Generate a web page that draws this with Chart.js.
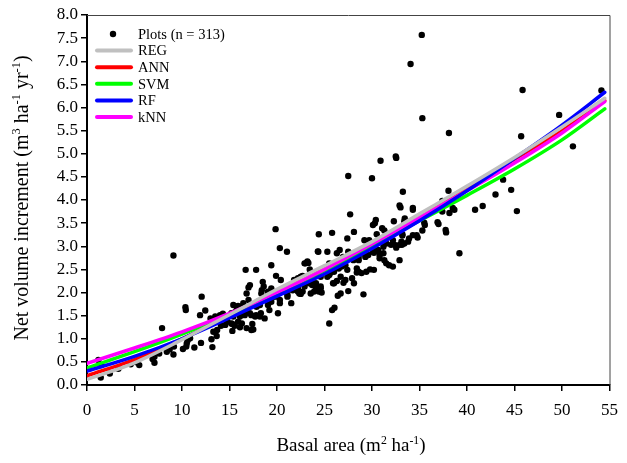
<!DOCTYPE html>
<html lang="en">
<head>
    <meta charset="UTF-8">
    <title>Net volume increment vs basal area</title>
    <script src="https://cdn.jsdelivr.net/npm/chart.js"></script>
    <style>
        body { margin: 0; background: white; }
        #wrap { width: 627px; height: 463px; }
    </style>
</head>
<body>
    <div id="wrap"><canvas id="nviChart" width="627" height="463"></canvas></div>
    <script>
        const plotX = [
            1.2, 1.5, 1.45, 2.4, 3.3, 4.6, 5.2, 5.5, 6.9, 7.1, 7.1, 7.6, 7.9, 8.4, 8.7, 9.1, 9.15, 9.1,
            10.1, 10.45, 10.5, 10.6, 10.85, 10.36, 10.4, 11.3, 12.0, 11.9, 12.07, 12.45, 13.0, 13.3, 13.5,
            13.1, 13.65, 13.3, 13.2, 13.7, 14.1, 14.0, 14.3, 14.55, 14.8, 15.3, 15.3, 15.45, 15.2, 15.55,
            16.1, 15.4, 16.1, 15.9,
            15.4, 15.75, 16.3, 15.6, 15.2, 16.6, 16.8, 15.9, 16.3, 17.4, 16.8, 17.5, 17.3, 17.15, 17.7,
            18.2, 18.7, 17.3, 17.8, 18.3, 16.45, 17.85, 18.2, 19.05, 19.2, 20.1, 16.7, 17.8, 17.15, 17.0,
            16.8, 18.5, 18.6, 18.4, 19.4, 19.9, 20.3, 18.35, 19.05, 19.6, 19.4, 20.3, 18.0, 17.5, 17.0,
            19.4, 19.85, 19.9, 20.4, 20.3, 21.05,
            21.8, 22.35, 22.7, 22.2, 22.5, 21.3, 21.65, 21.65, 22.2, 20.8, 21.1, 21.1, 21.5, 22.2, 22.5,
            22.35, 22.7, 22.9, 23.4, 23.7, 24.1, 24.5, 24.7, 23.55, 23.9, 23.65, 24.1, 24.6, 24.4, 24.6,
            22.9, 23.3, 23.0, 23.2, 23.45, 24.25, 24.25, 24.6, 24.4, 24.35, 24.3,
            25.3, 25.8, 25.5, 25.5, 25.8, 26.5, 26.8, 27.2, 27.4, 28.4, 26.3, 26.6, 26.95, 27.5, 28.6,
            29.3, 27.4, 28.1, 27.7, 27.5, 25.9, 27.2, 27.0, 27.9, 28.1, 26.0, 26.3, 26.7, 25.6, 25.3,
            26.0, 27.5, 26.4, 26.7, 29.1, 26.05, 25.8, 25.5, 28.4, 28.6, 28.9, 29.4, 28.05, 28.6, 29.1,
            29.6, 29.2, 29.7, 29.8,
            30.1, 30.65, 30.1, 30.2, 30.8, 31.2, 31.8, 30.2, 30.0, 30.9, 32.5, 30.4, 30.3, 30.1, 31.07,
            31.3, 30.5, 31.2, 31.5, 32.0, 32.2, 32.9, 33.4, 33.9, 34.3, 30.8, 31.3, 31.5, 32.2, 32.9,
            32.4, 33.1, 32.3, 33.45, 33.25, 32.9, 34.3, 32.55, 33.15, 33.8, 34.8, 33.2, 33.4, 34.3, 33.0,
            34.06, 32.55, 33.2, 34.7,
            35.24, 35.3, 38.1, 35.3, 35.5, 36.9, 37.75, 37.0, 35.56, 37.8, 39.2, 38.05, 37.44, 37.4,
            38.15, 38.5, 38.67, 37.4, 40.85, 41.65, 43.0, 43.8, 44.65, 45.25, 45.7, 45.85, 49.7, 51.15,
            54.15
        ];
        const plotY = [
            0.54, 0.43, 0.16, 0.25, 0.35, 0.45, 0.49, 0.43, 0.56, 0.48, 0.61, 0.68, 1.23, 0.72, 0.77, 0.66, 0.83, 2.8,
            0.78, 0.83, 0.9, 0.97, 1.01, 1.68, 1.62, 0.81, 0.91, 1.51, 1.91, 1.61, 1.44, 1.39, 1.48,
            0.99, 1.06, 1.15, 0.82, 1.19, 1.28, 1.51, 1.54, 1.3, 1.37, 1.32, 1.17, 1.55, 1.33, 1.28,
            1.25, 1.48, 1.48, 1.71,
            1.73, 1.69, 1.66, 1.58, 1.55, 1.51, 1.62, 1.37, 1.33, 1.32, 1.23, 1.2, 1.19, 1.55, 1.48,
            1.48, 1.44, 1.51, 1.51, 1.55, 1.77, 1.69, 1.73, 1.73, 1.62, 1.55, 2.49, 2.49, 2.16, 2.11,
            1.98, 2.23, 2.13, 2.05, 2.09, 1.91, 1.84, 1.98, 2.02, 1.91, 1.8, 1.77, 1.8, 1.73, 1.84,
            2.59, 3.37, 2.36, 2.27, 2.96, 2.88,
            2.27, 2.25, 2.36, 2.31, 2.34, 2.09, 2.14, 2.05, 2.09, 2.02, 1.95, 1.91, 1.77, 2.02, 1.97,
            1.98, 2.02, 2.13, 2.2, 2.16, 2.09, 2.05, 2.0, 1.98, 2.02, 2.23, 2.2, 2.13, 2.02, 2.09,
            2.63, 2.64, 2.63, 2.67, 2.5, 2.45, 2.38, 2.34, 3.26, 2.88, 2.89,
            2.88, 3.29, 2.38, 2.63, 2.59, 2.52, 2.56, 2.59, 2.49, 2.43, 2.85, 2.92, 2.77, 2.88, 2.7,
            2.77, 3.17, 3.31, 3.69, 4.52, 2.2, 2.27, 2.21, 2.31, 2.2, 2.2, 2.25, 2.34, 2.42, 2.34,
            2.45, 2.03, 1.93, 1.98, 1.96, 1.67, 1.62, 1.33, 2.52, 2.45, 2.42, 2.45, 2.7, 2.77, 2.85,
            2.81, 3.13, 3.13, 2.5,
            2.88, 2.92, 2.93, 2.86, 2.81, 2.85, 2.59, 2.49, 4.47, 4.85, 4.94, 3.57, 3.5, 3.46, 3.39,
            3.34, 3.26, 2.99, 3.06, 3.03, 3.13, 3.03, 3.06, 3.17, 3.24, 2.74, 2.7, 2.63, 2.56, 2.7,
            3.03, 3.1, 3.54, 3.6, 4.18, 3.88, 3.83, 2.97, 3.03, 3.1, 3.19, 3.23, 3.54, 3.79, 3.84,
            6.94, 4.91, 3.26, 3.24,
            7.57, 5.77, 5.45, 3.34, 3.51, 3.52, 3.35, 3.48, 3.46, 3.3, 2.85, 4.2, 3.93, 3.98,
            3.72, 3.83, 3.79, 3.75, 3.79, 3.87, 4.12, 4.44, 4.22, 3.76, 5.38, 6.38, 5.84, 5.16,
            6.37
        ];

        // fitted models, sampled along basal area
        const curveX = [0, 5, 10, 15, 20, 25, 30, 35, 40, 45, 50, 54.5];
        const regY = [0.12, 0.48, 0.98, 1.52, 2.07, 2.58, 3.1, 3.7, 4.3, 4.92, 5.58, 6.2];
        const annY = [0.2, 0.55, 1.0, 1.5, 2.02, 2.53, 3.06, 3.63, 4.25, 4.88, 5.5, 6.15];
        const svmY = [0.37, 0.72, 1.1, 1.52, 1.98, 2.47, 3.0, 3.55, 4.1, 4.67, 5.3, 5.97];
        const rfY = [0.3, 0.62, 1.0, 1.45, 1.92, 2.4, 2.95, 3.55, 4.2, 4.9, 5.62, 6.33];
        const knnY = [0.47, 0.8, 1.15, 1.55, 2.0, 2.5, 3.05, 3.62, 4.2, 4.8, 5.45, 6.13];

        const serif = "'Liberation Serif', 'Times New Roman', serif";

        const toPts = (xs, ys) => xs.map((x, i) => ({ x: x, y: ys[i] }));

        function curve(label, ys, color, order) {
            return {
                label: label,
                data: toPts(curveX, ys),
                showLine: true,
                borderColor: color,
                backgroundColor: color,
                borderWidth: 3.5,
                borderCapStyle: 'round',
                pointRadius: 0,
                cubicInterpolationMode: 'monotone',
                order: order
            };
        }

        // text with superscripts, parts = [[text, isSup], ...]
        function richText(ctx, parts, x, y, size) {
            const widths = parts.map(p => {
                ctx.font = (p[1] ? size * 0.62 : size) + 'px ' + serif;
                return ctx.measureText(p[0]).width;
            });
            let cx = x - widths.reduce((a, b) => a + b, 0) / 2;
            parts.forEach((p, i) => {
                ctx.font = (p[1] ? size * 0.62 : size) + 'px ' + serif;
                ctx.fillText(p[0], cx, p[1] ? y - size * 0.38 : y);
                cx += widths[i];
            });
        }

        const extras = {
            id: 'extras',
            afterDraw(chart) {
                const ctx = chart.ctx;
                const a = chart.chartArea;
                ctx.save();
                // box top and right
                ctx.strokeStyle = '#444';
                ctx.lineWidth = 1;
                ctx.beginPath();
                ctx.moveTo(a.left, a.top + 0.5);
                ctx.lineTo(a.right + 0.5, a.top + 0.5);
                ctx.lineTo(a.right + 0.5, a.bottom);
                ctx.stroke();

                ctx.fillStyle = '#000';
                ctx.textAlign = 'left';
                ctx.textBaseline = 'alphabetic';
                richText(ctx, [['Basal area (m', false], ['2', true], [' ha', false], ['-1', true], [')', false]],
                    351, 451, 19);
                ctx.translate(28, 198);
                ctx.rotate(-Math.PI / 2);
                richText(ctx, [['Net volume increment (m', false], ['3', true], [' ha', false], ['-1', true],
                    [' yr', false], ['-1', true], [')', false]], 0, 0, 20);
                ctx.restore();

                // legend
                ctx.save();
                const rows = [['Plots (n = 313)', null], ['REG', '#c0c0c0'], ['ANN', '#ff0000'],
                    ['SVM', '#00ff00'], ['RF', '#0000ff'], ['kNN', '#ff00ff']];
                ctx.font = '14.5px ' + serif;
                ctx.textBaseline = 'middle';
                rows.forEach((r, i) => {
                    const y = 34 + i * 16.6;
                    if (r[1]) {
                        ctx.strokeStyle = r[1];
                        ctx.lineWidth = 4;
                        ctx.lineCap = 'round';
                        ctx.beginPath();
                        ctx.moveTo(97, y);
                        ctx.lineTo(131, y);
                        ctx.stroke();
                    } else {
                        ctx.fillStyle = '#000';
                        ctx.beginPath();
                        ctx.arc(113, y, 3.2, 0, Math.PI * 2);
                        ctx.fill();
                    }
                    ctx.fillStyle = '#000';
                    ctx.fillText(r[0], 138, y + 1);
                });
                ctx.restore();
            }
        };

        const axisBase = {
            type: 'linear',
            grid: { drawOnChartArea: false, drawTicks: true, tickLength: 6, color: '#000', lineWidth: 1.5 },
            border: { display: true, color: '#000', width: 2 },
            title: { display: false }
        };

        new Chart(document.getElementById('nviChart'), {
            type: 'scatter',
            data: {
                datasets: [
                    {
                        label: 'Plots (n = 313)',
                        data: toPts(plotX, plotY),
                        pointRadius: 3.2,
                        pointBackgroundColor: '#000',
                        pointBorderWidth: 0,
                        order: 10
                    },
                    curve('REG', regY, '#c0c0c0', 2),
                    curve('ANN', annY, '#ff0000', 6),
                    curve('SVM', svmY, '#00ff00', 5),
                    curve('RF', rfY, '#0000ff', 3),
                    curve('kNN', knnY, '#ff00ff', 4)
                ]
            },
            options: {
                responsive: false,
                animation: false,
                devicePixelRatio: 1,
                layout: { padding: { top: 15, right: 12, left: 0, bottom: 0 } },
                plugins: { legend: { display: false }, tooltip: { enabled: false } },
                scales: {
                    x: Object.assign({}, axisBase, {
                        min: 0, max: 55,
                        ticks: { stepSize: 5, autoSkip: false, maxRotation: 0, color: '#000', padding: 9,
                            font: { family: serif, size: 17 } },
                        afterFit: s => { s.height = 78; }
                    }),
                    y: Object.assign({}, axisBase, {
                        min: 0, max: 8,
                        ticks: { stepSize: 0.5, autoSkip: false, color: '#000', padding: 3,
                            font: { family: serif, size: 17 }, callback: v => v.toFixed(1) },
                        afterFit: s => { s.width = 87; }
                    })
                }
            },
            plugins: [extras]
        });
    </script>
</body>
</html>
